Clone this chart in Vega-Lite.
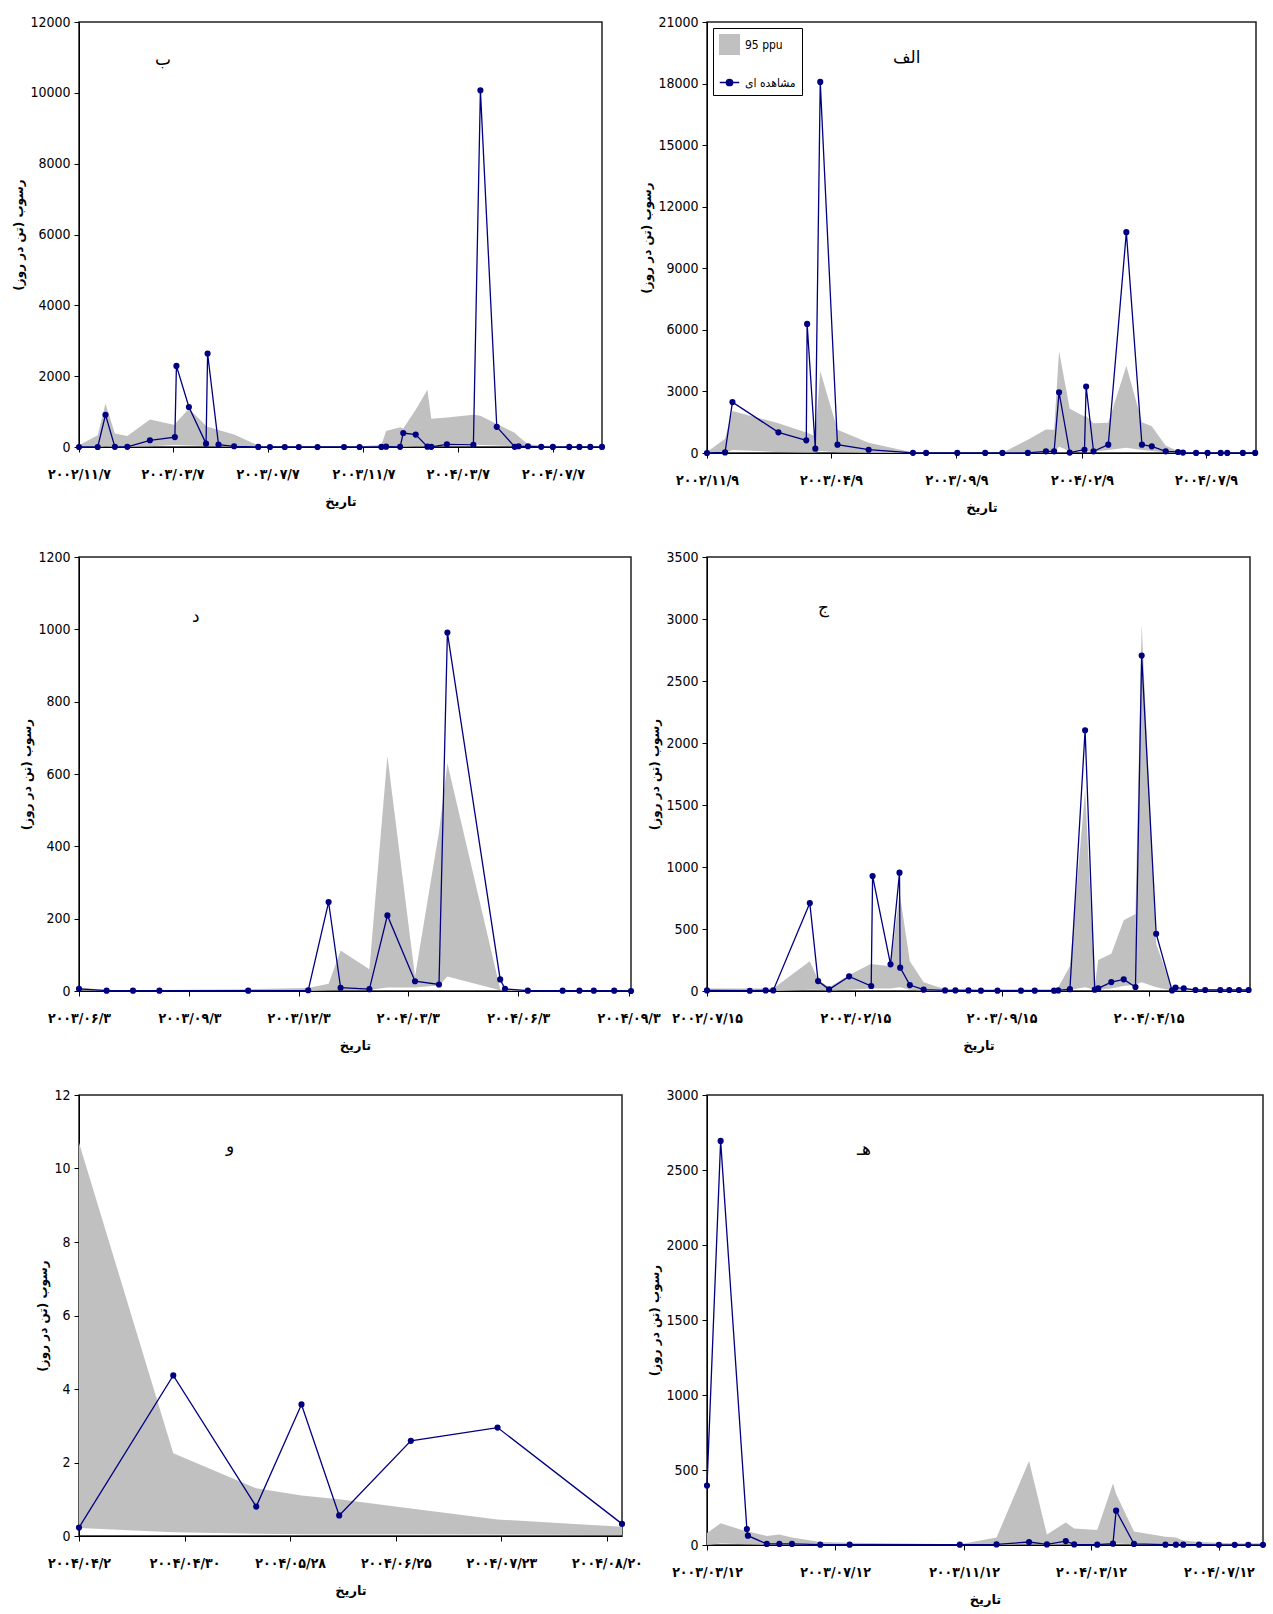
{
  "$schema": "https://vega.github.io/schema/vega-lite/v6.json",
  "padding": {"left": 12, "top": 14, "right": 2, "bottom": 0},
  "background": "white",
  "datasets": {
    "panel_b": [
      {"date": "2002-11-07", "obs": 0, "lo": 0, "hi": 50},
      {"date": "2002-12-01", "obs": 0, "lo": 0, "hi": 330},
      {"date": "2002-12-11", "obs": 910, "lo": 20, "hi": 1230},
      {"date": "2002-12-23", "obs": 5, "lo": 10, "hi": 380},
      {"date": "2003-01-08", "obs": 5, "lo": 10, "hi": 310},
      {"date": "2003-02-06", "obs": 190, "lo": 20, "hi": 780},
      {"date": "2003-03-10", "obs": 280, "lo": 60, "hi": 620},
      {"date": "2003-03-12", "obs": 2290, "lo": 60, "hi": 700},
      {"date": "2003-03-28", "obs": 1130, "lo": 40, "hi": 1080},
      {"date": "2003-04-19", "obs": 95, "lo": 30, "hi": 600},
      {"date": "2003-04-21", "obs": 2640, "lo": 30, "hi": 570},
      {"date": "2003-05-05", "obs": 65, "lo": 20, "hi": 480},
      {"date": "2003-05-25", "obs": 20, "lo": 10, "hi": 350},
      {"date": "2003-06-25", "obs": 2, "lo": 0, "hi": 40},
      {"date": "2003-07-10", "obs": 1, "lo": 0, "hi": 15},
      {"date": "2003-07-29", "obs": 1, "lo": 0, "hi": 15},
      {"date": "2003-08-16", "obs": 1, "lo": 0, "hi": 15},
      {"date": "2003-09-09", "obs": 1, "lo": 0, "hi": 15},
      {"date": "2003-10-13", "obs": 1, "lo": 0, "hi": 15},
      {"date": "2003-11-02", "obs": 1, "lo": 0, "hi": 20},
      {"date": "2003-11-30", "obs": 2, "lo": 0, "hi": 60},
      {"date": "2003-12-06", "obs": 10, "lo": 10, "hi": 450},
      {"date": "2003-12-24", "obs": 5, "lo": 10, "hi": 560},
      {"date": "2003-12-28", "obs": 395, "lo": 10, "hi": 520},
      {"date": "2004-01-13", "obs": 350, "lo": 20, "hi": 1050},
      {"date": "2004-01-28", "obs": 10, "lo": 20, "hi": 1620},
      {"date": "2004-02-02", "obs": 5, "lo": 20, "hi": 800},
      {"date": "2004-02-22", "obs": 75, "lo": 60, "hi": 830},
      {"date": "2004-03-27", "obs": 60, "lo": 80, "hi": 910},
      {"date": "2004-04-05", "obs": 10070, "lo": 60, "hi": 880},
      {"date": "2004-04-26", "obs": 570, "lo": 40, "hi": 650},
      {"date": "2004-05-19", "obs": 5, "lo": 20, "hi": 400},
      {"date": "2004-05-24", "obs": 20, "lo": 10, "hi": 300},
      {"date": "2004-06-05", "obs": 20, "lo": 5, "hi": 80},
      {"date": "2004-06-22", "obs": 5, "lo": 0, "hi": 40},
      {"date": "2004-07-07", "obs": 2, "lo": 0, "hi": 30},
      {"date": "2004-07-28", "obs": 2, "lo": 0, "hi": 20},
      {"date": "2004-08-10", "obs": 2, "lo": 0, "hi": 20},
      {"date": "2004-08-24", "obs": 2, "lo": 0, "hi": 20},
      {"date": "2004-09-08", "obs": 2, "lo": 0, "hi": 20}
    ],
    "panel_alef": [
      {"date": "2002-11-09", "obs": 0, "lo": 0, "hi": 50},
      {"date": "2002-12-01", "obs": 30, "lo": 0, "hi": 700},
      {"date": "2002-12-10", "obs": 2480, "lo": 150, "hi": 2050},
      {"date": "2003-02-04", "obs": 1005, "lo": 50, "hi": 1450},
      {"date": "2003-03-10", "obs": 616, "lo": 30, "hi": 1000},
      {"date": "2003-03-11", "obs": 6290, "lo": 30, "hi": 1000},
      {"date": "2003-03-21", "obs": 210, "lo": 20, "hi": 800},
      {"date": "2003-03-27", "obs": 18080, "lo": 100, "hi": 4000},
      {"date": "2003-04-17", "obs": 405, "lo": 40, "hi": 1130},
      {"date": "2003-05-25", "obs": 160, "lo": 10, "hi": 500},
      {"date": "2003-07-18", "obs": 10, "lo": 0, "hi": 20},
      {"date": "2003-08-03", "obs": 5, "lo": 0, "hi": 10},
      {"date": "2003-09-10", "obs": 5, "lo": 0, "hi": 10},
      {"date": "2003-10-14", "obs": 5, "lo": 0, "hi": 10},
      {"date": "2003-11-04", "obs": 5, "lo": 0, "hi": 10},
      {"date": "2003-12-05", "obs": 5, "lo": 0, "hi": 650},
      {"date": "2003-12-27", "obs": 80, "lo": 20, "hi": 1150},
      {"date": "2004-01-06", "obs": 80, "lo": 30, "hi": 1130},
      {"date": "2004-01-12", "obs": 2960, "lo": 300, "hi": 4970},
      {"date": "2004-01-25", "obs": 20, "lo": 100, "hi": 2150},
      {"date": "2004-02-12", "obs": 160, "lo": 80, "hi": 1780},
      {"date": "2004-02-14", "obs": 3240, "lo": 80, "hi": 1800},
      {"date": "2004-02-23", "obs": 80, "lo": 60, "hi": 1450},
      {"date": "2004-03-12", "obs": 405, "lo": 150, "hi": 1470},
      {"date": "2004-04-03", "obs": 10760, "lo": 250, "hi": 4250},
      {"date": "2004-04-22", "obs": 405, "lo": 150, "hi": 1500},
      {"date": "2004-05-04", "obs": 324, "lo": 100, "hi": 1300},
      {"date": "2004-05-21", "obs": 80, "lo": 30, "hi": 350},
      {"date": "2004-06-05", "obs": 50, "lo": 10, "hi": 100},
      {"date": "2004-06-11", "obs": 20, "lo": 5, "hi": 60},
      {"date": "2004-06-27", "obs": 5, "lo": 0, "hi": 30},
      {"date": "2004-07-11", "obs": 5, "lo": 0, "hi": 30},
      {"date": "2004-07-27", "obs": 5, "lo": 0, "hi": 30},
      {"date": "2004-08-04", "obs": 5, "lo": 0, "hi": 30},
      {"date": "2004-08-23", "obs": 5, "lo": 0, "hi": 30},
      {"date": "2004-09-07", "obs": 5, "lo": 0, "hi": 30}
    ],
    "panel_dal": [
      {"date": "2003-06-03", "obs": 6, "lo": 2, "hi": 10},
      {"date": "2003-06-26", "obs": 1, "lo": 0, "hi": 3},
      {"date": "2003-07-18", "obs": 1, "lo": 0, "hi": 3},
      {"date": "2003-08-09", "obs": 1, "lo": 0, "hi": 3},
      {"date": "2003-10-22", "obs": 1, "lo": 0, "hi": 5},
      {"date": "2003-12-11", "obs": 2, "lo": 0, "hi": 8},
      {"date": "2003-12-28", "obs": 246, "lo": 2, "hi": 20},
      {"date": "2004-01-07", "obs": 9, "lo": 3, "hi": 112},
      {"date": "2004-01-31", "obs": 5, "lo": 3, "hi": 60},
      {"date": "2004-02-15", "obs": 209, "lo": 10, "hi": 650},
      {"date": "2004-03-09", "obs": 27, "lo": 10, "hi": 40},
      {"date": "2004-03-29", "obs": 18, "lo": 15, "hi": 440},
      {"date": "2004-04-05", "obs": 991, "lo": 40, "hi": 630},
      {"date": "2004-05-19", "obs": 32, "lo": 2, "hi": 5},
      {"date": "2004-05-23", "obs": 6, "lo": 1, "hi": 3},
      {"date": "2004-06-11", "obs": 1, "lo": 0, "hi": 2},
      {"date": "2004-07-10", "obs": 1, "lo": 0, "hi": 1},
      {"date": "2004-07-24", "obs": 1, "lo": 0, "hi": 1},
      {"date": "2004-08-05", "obs": 1, "lo": 0, "hi": 1},
      {"date": "2004-08-22", "obs": 1, "lo": 0, "hi": 1},
      {"date": "2004-09-05", "obs": 0, "lo": 0, "hi": 1}
    ],
    "panel_jim": [
      {"date": "2002-07-15", "obs": 5, "lo": 0, "hi": 20},
      {"date": "2002-09-15", "obs": 2, "lo": 0, "hi": 20},
      {"date": "2002-10-08", "obs": 5, "lo": 0, "hi": 20},
      {"date": "2002-10-19", "obs": 5, "lo": 0, "hi": 20},
      {"date": "2002-12-11", "obs": 709, "lo": 10, "hi": 240},
      {"date": "2002-12-23", "obs": 80, "lo": 10, "hi": 90},
      {"date": "2003-01-08", "obs": 13, "lo": 5, "hi": 30},
      {"date": "2003-02-06", "obs": 118, "lo": 10, "hi": 130},
      {"date": "2003-03-10", "obs": 40, "lo": 20, "hi": 220},
      {"date": "2003-03-12", "obs": 927, "lo": 20, "hi": 215},
      {"date": "2003-04-07", "obs": 215, "lo": 20, "hi": 200},
      {"date": "2003-04-20", "obs": 954, "lo": 30, "hi": 780},
      {"date": "2003-04-21", "obs": 188, "lo": 30, "hi": 760},
      {"date": "2003-05-05", "obs": 48, "lo": 10, "hi": 240},
      {"date": "2003-05-25", "obs": 11, "lo": 5, "hi": 70},
      {"date": "2003-06-25", "obs": 5, "lo": 0, "hi": 15},
      {"date": "2003-07-10", "obs": 5, "lo": 0, "hi": 15},
      {"date": "2003-07-29", "obs": 5, "lo": 0, "hi": 15},
      {"date": "2003-08-16", "obs": 3, "lo": 0, "hi": 15},
      {"date": "2003-09-09", "obs": 3, "lo": 0, "hi": 15},
      {"date": "2003-10-13", "obs": 3, "lo": 0, "hi": 15},
      {"date": "2003-11-02", "obs": 3, "lo": 0, "hi": 15},
      {"date": "2003-11-30", "obs": 3, "lo": 0, "hi": 15},
      {"date": "2003-12-06", "obs": 5, "lo": 0, "hi": 30},
      {"date": "2003-12-23", "obs": 15, "lo": 10, "hi": 200},
      {"date": "2004-01-14", "obs": 2103, "lo": 30, "hi": 1620},
      {"date": "2004-01-28", "obs": 11, "lo": 10, "hi": 40},
      {"date": "2004-02-02", "obs": 21, "lo": 10, "hi": 250},
      {"date": "2004-02-21", "obs": 72, "lo": 20, "hi": 300},
      {"date": "2004-03-10", "obs": 94, "lo": 40, "hi": 570},
      {"date": "2004-03-27", "obs": 32, "lo": 50, "hi": 620},
      {"date": "2004-04-05", "obs": 2705, "lo": 70, "hi": 2960},
      {"date": "2004-04-26", "obs": 462, "lo": 30, "hi": 380},
      {"date": "2004-05-19", "obs": 5, "lo": 5, "hi": 20},
      {"date": "2004-05-24", "obs": 27, "lo": 5, "hi": 20},
      {"date": "2004-06-05", "obs": 21, "lo": 0, "hi": 15},
      {"date": "2004-06-22", "obs": 8, "lo": 0, "hi": 15},
      {"date": "2004-07-06", "obs": 8, "lo": 0, "hi": 15},
      {"date": "2004-07-28", "obs": 8, "lo": 0, "hi": 15},
      {"date": "2004-08-10", "obs": 8, "lo": 0, "hi": 15},
      {"date": "2004-08-24", "obs": 8, "lo": 0, "hi": 15},
      {"date": "2004-09-07", "obs": 8, "lo": 0, "hi": 15}
    ],
    "panel_vav": [
      {"date": "2004-04-02", "obs": 0.23, "lo": 0.22, "hi": 10.7},
      {"date": "2004-04-27", "obs": 4.37, "lo": 0.1, "hi": 2.25},
      {"date": "2004-05-19", "obs": 0.8, "lo": 0.06, "hi": 1.3},
      {"date": "2004-05-31", "obs": 3.58, "lo": 0.05, "hi": 1.1},
      {"date": "2004-06-10", "obs": 0.56, "lo": 0.05, "hi": 1.0},
      {"date": "2004-06-29", "obs": 2.59, "lo": 0.05, "hi": 0.75},
      {"date": "2004-07-22", "obs": 2.95, "lo": 0.04, "hi": 0.45},
      {"date": "2004-08-24", "obs": 0.33, "lo": 0.03, "hi": 0.25}
    ],
    "panel_he": [
      {"date": "2003-03-12", "obs": 396, "lo": 0, "hi": 80},
      {"date": "2003-03-25", "obs": 2694, "lo": 10, "hi": 145},
      {"date": "2003-04-19", "obs": 106, "lo": 5, "hi": 90},
      {"date": "2003-04-20", "obs": 62, "lo": 5, "hi": 90},
      {"date": "2003-05-08", "obs": 7, "lo": 2, "hi": 60},
      {"date": "2003-05-20", "obs": 7, "lo": 2, "hi": 70},
      {"date": "2003-06-01", "obs": 7, "lo": 2, "hi": 50},
      {"date": "2003-06-28", "obs": 2, "lo": 0, "hi": 20},
      {"date": "2003-07-26", "obs": 2, "lo": 0, "hi": 15},
      {"date": "2003-11-08", "obs": 2, "lo": 0, "hi": 5},
      {"date": "2003-12-13", "obs": 4, "lo": 0, "hi": 50},
      {"date": "2004-01-13", "obs": 20, "lo": 5, "hi": 560},
      {"date": "2004-01-30", "obs": 4, "lo": 2, "hi": 70},
      {"date": "2004-02-17", "obs": 26, "lo": 5, "hi": 150},
      {"date": "2004-02-25", "obs": 4, "lo": 3, "hi": 110},
      {"date": "2004-03-18", "obs": 2, "lo": 3, "hi": 100},
      {"date": "2004-04-02", "obs": 9, "lo": 10, "hi": 410},
      {"date": "2004-04-05", "obs": 229, "lo": 10, "hi": 340},
      {"date": "2004-04-22", "obs": 7, "lo": 5, "hi": 90},
      {"date": "2004-05-22", "obs": 2, "lo": 2, "hi": 55},
      {"date": "2004-06-01", "obs": 2, "lo": 1, "hi": 50},
      {"date": "2004-06-08", "obs": 2, "lo": 1, "hi": 30},
      {"date": "2004-06-23", "obs": 2, "lo": 0, "hi": 20},
      {"date": "2004-07-12", "obs": 1, "lo": 0, "hi": 15},
      {"date": "2004-07-27", "obs": 1, "lo": 0, "hi": 12},
      {"date": "2004-08-09", "obs": 1, "lo": 0, "hi": 12},
      {"date": "2004-08-23", "obs": 1, "lo": 0, "hi": 12}
    ]
  },
  "columns": 2,
  "bounds": "flush",
  "spacing": {"row": 104, "column": 76},
  "resolve": {"scale": {"color": "independent"}},
  "concat": [
    {
      "width": 523,
      "height": 425,
      "title": {"text": "ب", "anchor": "start", "frame": "group", "dx": 76, "dy": 58},
      "data": {"name": "panel_b"},
      "encoding": {
        "x": {
          "field": "date",
          "type": "temporal",
          "title": "تاریخ",
          "scale": {"type": "utc", "nice": false, "domain": [{"year": 2002, "month": 11, "date": 7, "utc": true}, {"year": 2004, "month": 9, "date": 8, "utc": true}]},
          "axis": {
            "values": [
              {"year": 2002, "month": 11, "date": 7, "utc": true},
              {"year": 2003, "month": 3, "date": 7, "utc": true},
              {"year": 2003, "month": 7, "date": 7, "utc": true},
              {"year": 2003, "month": 11, "date": 7, "utc": true},
              {"year": 2004, "month": 3, "date": 7, "utc": true},
              {"year": 2004, "month": 7, "date": 7, "utc": true}
            ],
            "labelExpr": "join(split(join(split(join(split(join(split(join(split(join(split(join(split(join(split(join(split(join(split(utcFormat(datum.value, '%Y/%m/%-d'), '0'), '۰'), '1'), '۱'), '2'), '۲'), '3'), '۳'), '4'), '۴'), '5'), '۵'), '6'), '۶'), '7'), '۷'), '8'), '۸'), '9'), '۹')"
          }
        }
      },
      "layer": [
        {
          "mark": {"type": "area", "color": "#c0c0c0", "opacity": 1},
          "encoding": {
            "y": {"field": "lo", "type": "quantitative", "title": "رسوب (تن در روز)", "scale": {"domain": [0, 12000], "nice": false}, "axis": {"values": [0, 2000, 4000, 6000, 8000, 10000, 12000], "format": "d"}},
            "y2": {"field": "hi"}
          }
        },
        {
          "mark": {"type": "line", "color": "#000080", "strokeWidth": 1.3, "point": {"filled": true, "size": 38, "color": "#000080"}},
          "encoding": {"y": {"field": "obs", "type": "quantitative", "title": "رسوب (تن در روز)"}}
        }
      ]
    },
    {
      "width": 549,
      "height": 431,
      "title": {"text": "الف", "anchor": "start", "frame": "group", "dx": 186, "dy": 56},
      "data": {"name": "panel_alef"},
      "encoding": {
        "x": {
          "field": "date",
          "type": "temporal",
          "title": "تاریخ",
          "scale": {"type": "utc", "nice": false, "domain": [{"year": 2002, "month": 11, "date": 9, "utc": true}, {"year": 2004, "month": 9, "date": 8, "utc": true}]},
          "axis": {
            "values": [
              {"year": 2002, "month": 11, "date": 9, "utc": true},
              {"year": 2003, "month": 4, "date": 9, "utc": true},
              {"year": 2003, "month": 9, "date": 9, "utc": true},
              {"year": 2004, "month": 2, "date": 9, "utc": true},
              {"year": 2004, "month": 7, "date": 9, "utc": true}
            ],
            "labelExpr": "join(split(join(split(join(split(join(split(join(split(join(split(join(split(join(split(join(split(join(split(utcFormat(datum.value, '%Y/%m/%-d'), '0'), '۰'), '1'), '۱'), '2'), '۲'), '3'), '۳'), '4'), '۴'), '5'), '۵'), '6'), '۶'), '7'), '۷'), '8'), '۸'), '9'), '۹')"
          }
        }
      },
      "layer": [
        {
          "mark": {"type": "area", "opacity": 1},
          "encoding": {
            "y": {"field": "lo", "type": "quantitative", "title": "رسوب (تن در روز)", "scale": {"domain": [0, 21000], "nice": false}, "axis": {"values": [0, 3000, 6000, 9000, 12000, 15000, 18000, 21000], "format": "d"}},
            "y2": {"field": "hi"},
            "color": {
              "datum": "95 ppu",
              "type": "nominal",
              "scale": {"domain": ["95 ppu", "مشاهده ای"], "range": ["#c0c0c0", "#000080"]},
              "legend": {
                "title": null,
                "orient": "top-left",
                "offset": 6,
                "strokeColor": "#000",
                "padding": 6,
                "rowPadding": 14,
                "symbolSize": 380,
                "symbolType": {"expr": "datum.value === '95 ppu' ? 'square' : 'M-1,0H1M-0.32,0A0.32,0.32 0 1,0 0.32,0A0.32,0.32 0 1,0 -0.32,0Z'"},
                "labelFont": "DejaVu Sans Condensed, DejaVu Sans",
                "labelFontSize": 12,
                "labelOffset": 5,
                "labelColor": "#000",
                "encode": {
                  "symbols": {
                    "size": {"condition": {"test": "datum.value === '95 ppu'", "value": 340}, "value": 400},
                    "fill": {"condition": {"test": "datum.value === '95 ppu'", "value": "#c0c0c0"}, "value": "#000080"},
                    "stroke": {"condition": {"test": "datum.value === '95 ppu'", "value": "#c0c0c0"}, "value": "#000080"},
                    "strokeWidth": {"value": 1.3},
                    "opacity": {"value": 1}
                  },
                  "labels": {
                    "fontWeight": {"condition": {"test": "datum.value === '95 ppu'", "value": "normal"}, "value": "bold"}
                  }
                }
              }
            }
          }
        },
        {
          "mark": {"type": "line", "strokeWidth": 1.3, "point": {"filled": true, "size": 38}},
          "encoding": {
            "y": {"field": "obs", "type": "quantitative", "title": "رسوب (تن در روز)"},
            "color": {"datum": "مشاهده ای", "type": "nominal"}
          }
        }
      ]
    },
    {
      "width": 552,
      "height": 434,
      "title": {"text": "د", "anchor": "start", "frame": "group", "dx": 113, "dy": 80},
      "data": {"name": "panel_dal"},
      "encoding": {
        "x": {
          "field": "date",
          "type": "temporal",
          "title": "تاریخ",
          "scale": {"type": "utc", "nice": false, "domain": [{"year": 2003, "month": 6, "date": 3, "utc": true}, {"year": 2004, "month": 9, "date": 5, "utc": true}]},
          "axis": {
            "values": [
              {"year": 2003, "month": 6, "date": 3, "utc": true},
              {"year": 2003, "month": 9, "date": 3, "utc": true},
              {"year": 2003, "month": 12, "date": 3, "utc": true},
              {"year": 2004, "month": 3, "date": 3, "utc": true},
              {"year": 2004, "month": 6, "date": 3, "utc": true},
              {"year": 2004, "month": 9, "date": 3, "utc": true}
            ],
            "labelExpr": "join(split(join(split(join(split(join(split(join(split(join(split(join(split(join(split(join(split(join(split(utcFormat(datum.value, '%Y/%m/%-d'), '0'), '۰'), '1'), '۱'), '2'), '۲'), '3'), '۳'), '4'), '۴'), '5'), '۵'), '6'), '۶'), '7'), '۷'), '8'), '۸'), '9'), '۹')"
          }
        }
      },
      "layer": [
        {
          "mark": {"type": "area", "color": "#c0c0c0", "opacity": 1},
          "encoding": {
            "y": {"field": "lo", "type": "quantitative", "title": "رسوب (تن در روز)", "scale": {"domain": [0, 1200], "nice": false}, "axis": {"values": [0, 200, 400, 600, 800, 1000, 1200], "format": "d"}},
            "y2": {"field": "hi"}
          }
        },
        {
          "mark": {"type": "line", "color": "#000080", "strokeWidth": 1.3, "point": {"filled": true, "size": 38, "color": "#000080"}},
          "encoding": {"y": {"field": "obs", "type": "quantitative", "title": "رسوب (تن در روز)"}}
        }
      ]
    },
    {
      "width": 543,
      "height": 434,
      "title": {"text": "ج", "anchor": "start", "frame": "group", "dx": 111, "dy": 71},
      "data": {"name": "panel_jim"},
      "encoding": {
        "x": {
          "field": "date",
          "type": "temporal",
          "title": "تاریخ",
          "scale": {"type": "utc", "nice": false, "domain": [{"year": 2002, "month": 7, "date": 15, "utc": true}, {"year": 2004, "month": 9, "date": 9, "utc": true}]},
          "axis": {
            "values": [
              {"year": 2002, "month": 7, "date": 15, "utc": true},
              {"year": 2003, "month": 2, "date": 15, "utc": true},
              {"year": 2003, "month": 9, "date": 15, "utc": true},
              {"year": 2004, "month": 4, "date": 15, "utc": true}
            ],
            "labelExpr": "join(split(join(split(join(split(join(split(join(split(join(split(join(split(join(split(join(split(join(split(utcFormat(datum.value, '%Y/%m/%-d'), '0'), '۰'), '1'), '۱'), '2'), '۲'), '3'), '۳'), '4'), '۴'), '5'), '۵'), '6'), '۶'), '7'), '۷'), '8'), '۸'), '9'), '۹')"
          }
        }
      },
      "layer": [
        {
          "mark": {"type": "area", "color": "#c0c0c0", "opacity": 1},
          "encoding": {
            "y": {"field": "lo", "type": "quantitative", "title": "رسوب (تن در روز)", "scale": {"domain": [0, 3500], "nice": false}, "axis": {"values": [0, 500, 1000, 1500, 2000, 2500, 3000, 3500], "format": "d"}},
            "y2": {"field": "hi"}
          }
        },
        {
          "mark": {"type": "line", "color": "#000080", "strokeWidth": 1.3, "point": {"filled": true, "size": 38, "color": "#000080"}},
          "encoding": {"y": {"field": "obs", "type": "quantitative", "title": "رسوب (تن در روز)"}}
        }
      ]
    },
    {
      "width": 543,
      "height": 441,
      "title": {"text": "و", "anchor": "start", "frame": "group", "dx": 147, "dy": 72},
      "data": {"name": "panel_vav"},
      "encoding": {
        "x": {
          "field": "date",
          "type": "temporal",
          "title": "تاریخ",
          "scale": {"type": "utc", "nice": false, "domain": [{"year": 2004, "month": 4, "date": 2, "utc": true}, {"year": 2004, "month": 8, "date": 24, "utc": true}]},
          "axis": {
            "values": [
              {"year": 2004, "month": 4, "date": 2, "utc": true},
              {"year": 2004, "month": 4, "date": 30, "utc": true},
              {"year": 2004, "month": 5, "date": 28, "utc": true},
              {"year": 2004, "month": 6, "date": 25, "utc": true},
              {"year": 2004, "month": 7, "date": 23, "utc": true},
              {"year": 2004, "month": 8, "date": 20, "utc": true}
            ],
            "labelExpr": "join(split(join(split(join(split(join(split(join(split(join(split(join(split(join(split(join(split(join(split(utcFormat(datum.value, '%Y/%m/%-d'), '0'), '۰'), '1'), '۱'), '2'), '۲'), '3'), '۳'), '4'), '۴'), '5'), '۵'), '6'), '۶'), '7'), '۷'), '8'), '۸'), '9'), '۹')"
          }
        }
      },
      "layer": [
        {
          "mark": {"type": "area", "color": "#c0c0c0", "opacity": 1},
          "encoding": {
            "y": {"field": "lo", "type": "quantitative", "title": "رسوب (تن در روز)", "scale": {"domain": [0, 12], "nice": false}, "axis": {"values": [0, 2, 4, 6, 8, 10, 12], "format": "d"}},
            "y2": {"field": "hi"}
          }
        },
        {
          "mark": {"type": "line", "color": "#000080", "strokeWidth": 1.3, "point": {"filled": true, "size": 38, "color": "#000080"}},
          "encoding": {"y": {"field": "obs", "type": "quantitative", "title": "رسوب (تن در روز)"}}
        }
      ]
    },
    {
      "width": 556,
      "height": 450,
      "title": {"text": "هـ", "anchor": "start", "frame": "group", "dx": 150, "dy": 75},
      "data": {"name": "panel_he"},
      "encoding": {
        "x": {
          "field": "date",
          "type": "temporal",
          "title": "تاریخ",
          "scale": {"type": "utc", "nice": false, "domain": [{"year": 2003, "month": 3, "date": 12, "utc": true}, {"year": 2004, "month": 8, "date": 23, "utc": true}]},
          "axis": {
            "values": [
              {"year": 2003, "month": 3, "date": 12, "utc": true},
              {"year": 2003, "month": 7, "date": 12, "utc": true},
              {"year": 2003, "month": 11, "date": 12, "utc": true},
              {"year": 2004, "month": 3, "date": 12, "utc": true},
              {"year": 2004, "month": 7, "date": 12, "utc": true}
            ],
            "labelExpr": "join(split(join(split(join(split(join(split(join(split(join(split(join(split(join(split(join(split(join(split(utcFormat(datum.value, '%Y/%m/%-d'), '0'), '۰'), '1'), '۱'), '2'), '۲'), '3'), '۳'), '4'), '۴'), '5'), '۵'), '6'), '۶'), '7'), '۷'), '8'), '۸'), '9'), '۹')"
          }
        }
      },
      "layer": [
        {
          "mark": {"type": "area", "color": "#c0c0c0", "opacity": 1},
          "encoding": {
            "y": {"field": "lo", "type": "quantitative", "title": "رسوب (تن در روز)", "scale": {"domain": [0, 3000], "nice": false}, "axis": {"values": [0, 500, 1000, 1500, 2000, 2500, 3000], "format": "d"}},
            "y2": {"field": "hi"}
          }
        },
        {
          "mark": {"type": "line", "color": "#000080", "strokeWidth": 1.3, "point": {"filled": true, "size": 38, "color": "#000080"}},
          "encoding": {"y": {"field": "obs", "type": "quantitative", "title": "رسوب (تن در روز)"}}
        }
      ]
    }
  ],
  "config": {
    "view": {"stroke": "#222", "strokeWidth": 1.5},
    "title": {"font": "DejaVu Sans", "fontSize": 17, "fontWeight": "normal", "color": "#000", "offset": 4},
    "axis": {
      "grid": false,
      "domainColor": "#000",
      "tickColor": "#000",
      "labelColor": "#000",
      "titleColor": "#000",
      "tickSize": 5,
      "titleFont": "DejaVu Sans",
      "titleFontWeight": "bold"
    },
    "axisY": {
      "labelFont": "Liberation Sans Narrow, DejaVu Sans Condensed",
      "labelFontSize": 14,
      "labelPadding": 4,
      "titleFontSize": 12,
      "titlePadding": 4
    },
    "axisX": {
      "labelFont": "DejaVu Sans Condensed, DejaVu Sans",
      "labelFontSize": 14,
      "labelFontWeight": "bold",
      "labelPadding": 15,
      "labelFlush": false,
      "labelOverlap": false,
      "titleFontSize": 13,
      "titlePadding": 14
    }
  }
}
